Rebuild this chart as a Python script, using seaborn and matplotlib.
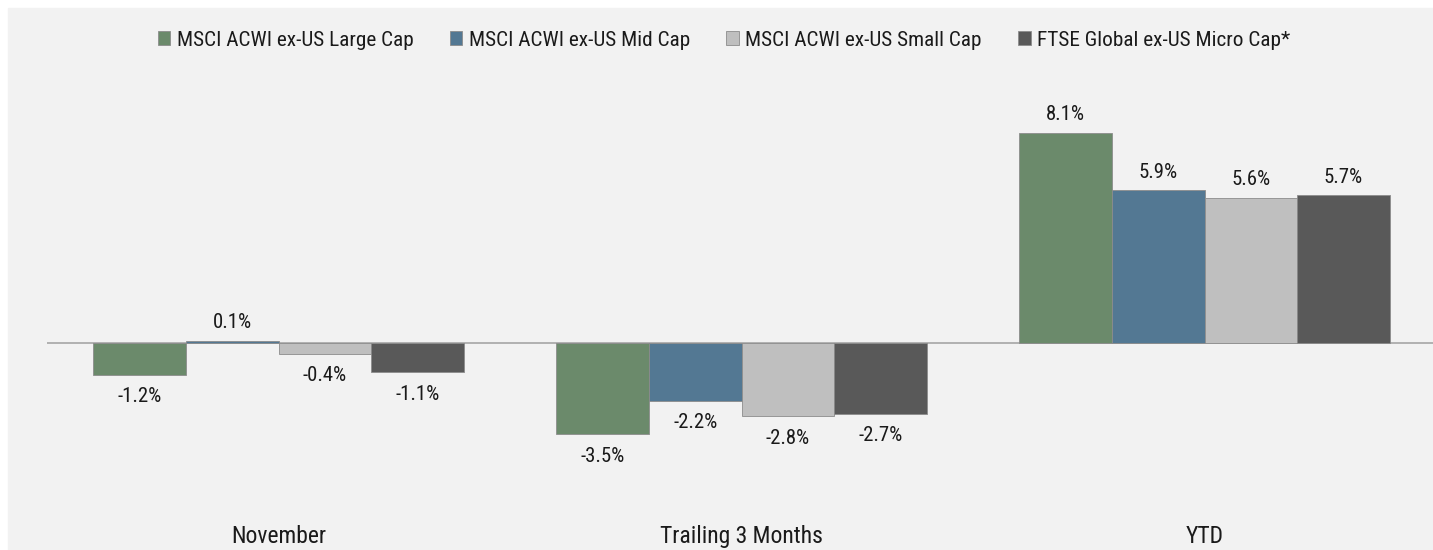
import matplotlib
matplotlib.use("Agg")
import matplotlib.pyplot as plt
from matplotlib import font_manager as fm
import seaborn as sns
import pandas as pd

# chart data
periods = ["November", "Trailing 3 Months", "YTD"]
series = ["MSCI ACWI ex-US Large Cap", "MSCI ACWI ex-US Mid Cap",
          "MSCI ACWI ex-US Small Cap", "FTSE Global ex-US Micro Cap*"]
large_cap = [-1.2, -3.5, 8.1]
mid_cap = [0.1, -2.2, 5.9]
small_cap = [-0.4, -2.8, 5.6]
micro_cap = [-1.1, -2.7, 5.7]
colors = ["#6b8a6b", "#537893", "#bfbfbf", "#595959"]

rows = []
for name, vals in zip(series, [large_cap, mid_cap, small_cap, micro_cap]):
    for p, v in zip(periods, vals):
        rows.append({"period": p, "series": name, "value": v})
df = pd.DataFrame(rows)

sns.set_style("white")

# pick a narrow face if one is installed
names = sorted({f.name for f in fm.fontManager.ttflist})
narrow = [n for n in names if "Narrow" in n or "Condensed" in n]
prefs = ["Liberation Sans Narrow", "Roboto Condensed", "Open Sans Condensed",
         "DejaVu Sans Condensed", "Noto Sans Condensed"]
family = next((p for p in prefs if p in names), narrow[0] if narrow else "Roboto")
plt.rcParams["font.family"] = [family, "DejaVu Sans"]

bg = "#f2f2f2"
fig = plt.figure(figsize=(14.33, 5.5), dpi=100, facecolor="white")
fig.patches.append(plt.Rectangle((8 / 1433, 0), 1 - 8 / 1433, 1 - 8 / 550,
                                 transform=fig.transFigure, color=bg, zorder=-10))

# size texts so they are as wide as in the source
r = fig.canvas.get_renderer()


def fit_size(s, width_px):
    t = fig.text(0, 0, s, fontsize=10)
    w = t.get_window_extent(r).width
    t.remove()
    return 10 * width_px / w


fs_leg = fit_size("MSCI ACWI ex-US Large Cap", 237)
fs_lbl = fit_size("-1.2%", 44)
fs_cat = fit_size("November", 95)

ax = fig.add_axes([47 / 1433, 35 / 550, 1389 / 1433, 455 / 550])
ax.set_facecolor("none")

sns.barplot(data=df, x="period", y="value", hue="series", order=periods,
            hue_order=series, palette=colors, width=0.8, ax=ax,
            edgecolor="#8c8c8c", linewidth=0.6, saturation=1, errorbar=None)

ax.set_ylim(-6.6, 10.9)
ax.set_xlim(-0.5, 2.5)
ax.axhline(0, color="#a6a6a6", linewidth=1.2, zorder=0)

# positive labels above the bar, negative ones a bit further below
for cont in ax.containers:
    vals = cont.datavalues
    ax.bar_label(cont, labels=[f"{v:.1f}%" if v >= 0 else "" for v in vals],
                 padding=6, fontsize=fs_lbl, color="#1a1a1a")
    ax.bar_label(cont, labels=[f"{v:.1f}%" if v < 0 else "" for v in vals],
                 padding=9, fontsize=fs_lbl, color="#1a1a1a")

for s in ax.spines.values():
    s.set_visible(False)
ax.set_yticks([])
ax.set_xlabel("")
ax.set_ylabel("")
ax.tick_params(axis="x", length=0, pad=7, labelsize=fs_cat, labelcolor="#1a1a1a")

handles, labels = ax.get_legend_handles_labels()
ax.get_legend().remove()
fig.legend(handles, labels, loc="center", bbox_to_anchor=(724 / 1433, 1 - 40 / 550),
           ncol=4, frameon=False, fontsize=fs_leg, handlelength=0.6,
           handleheight=0.6, handletextpad=0.3, columnspacing=1.7,
           labelcolor="#1a1a1a")

fig.savefig("out.png", dpi=100, facecolor="white")
